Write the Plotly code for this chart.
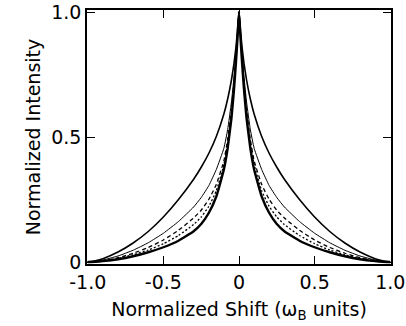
import plotly.graph_objects as go

shift = [-1.0, -0.95, -0.9, -0.8, -0.7, -0.6, -0.5, -0.4, -0.3, -0.25, -0.2, -0.15, -0.1, -0.075, -0.05,
         -0.033, -0.02, -0.01, 0.0,
         0.01, 0.02, 0.033, 0.05, 0.075, 0.1, 0.15, 0.2, 0.25, 0.3, 0.4, 0.5, 0.6, 0.7, 0.8, 0.9, 0.95, 1.0]

outer = [0.0, 0.005, 0.0135, 0.040, 0.076, 0.122, 0.180, 0.250, 0.331, 0.379, 0.434, 0.502, 0.592, 0.652, 0.728,
         0.795, 0.860, 0.925, 1.0,
         0.925, 0.860, 0.795, 0.728, 0.652, 0.592, 0.502, 0.434, 0.379, 0.331, 0.250, 0.180, 0.122, 0.076, 0.040,
         0.0135, 0.005, 0.0]
second = [0.0, 0.003, 0.008, 0.024, 0.047, 0.077, 0.115, 0.162, 0.220, 0.258, 0.305, 0.370, 0.455, 0.530, 0.640,
          0.740, 0.835, 0.915, 1.0,
          0.915, 0.835, 0.740, 0.640, 0.530, 0.455, 0.370, 0.305, 0.258, 0.220, 0.162, 0.115, 0.077, 0.047, 0.024,
          0.008, 0.003, 0.0]
dashed = [0.0, 0.0018, 0.005, 0.017, 0.035, 0.058, 0.088, 0.127, 0.176, 0.207, 0.250, 0.310, 0.405, 0.490, 0.610,
          0.720, 0.820, 0.905, 1.0,
          0.905, 0.820, 0.720, 0.610, 0.490, 0.405, 0.310, 0.250, 0.207, 0.176, 0.127, 0.088, 0.058, 0.035, 0.017,
          0.005, 0.0018, 0.0]
dotted = [0.0, 0.0015, 0.0045, 0.014, 0.029, 0.048, 0.073, 0.106, 0.150, 0.180, 0.222, 0.285, 0.390, 0.475, 0.595,
          0.705, 0.810, 0.900, 1.0,
          0.900, 0.810, 0.705, 0.595, 0.475, 0.390, 0.285, 0.222, 0.180, 0.150, 0.106, 0.073, 0.048, 0.029, 0.014,
          0.0045, 0.0015, 0.0]
inner = [0.0, 0.001, 0.0035, 0.011, 0.023, 0.039, 0.059, 0.085, 0.123, 0.152, 0.196, 0.262, 0.370, 0.455, 0.575,
         0.690, 0.800, 0.895, 1.0,
         0.895, 0.800, 0.690, 0.575, 0.455, 0.370, 0.262, 0.196, 0.152, 0.123, 0.085, 0.059, 0.039, 0.023, 0.011,
         0.0035, 0.001, 0.0]

x_tickvals = [-1.0, -0.5, 0.0, 0.5, 1.0]
x_ticktext = ["-1.0", "-0.5", "0", "0.5", "1.0"]
y_tickvals = [0.0, 0.5, 1.0]
y_ticktext = ["0", "0.5", "1.0"]

series = [
    (outer, dict(color="black", width=1.6, dash="solid")),
    (second, dict(color="black", width=1.0, dash="solid")),
    (dashed, dict(color="black", width=1.3, dash="4px,3px")),
    (dotted, dict(color="black", width=1.3, dash="2px,2px")),
    (inner, dict(color="black", width=2.4, dash="solid")),
]

fig = go.Figure()
for ys, ln in series:
    fig.add_trace(go.Scatter(x=shift, y=ys, mode="lines",
                             line=dict(shape="spline", smoothing=0.4, **ln),
                             showlegend=False, hoverinfo="skip"))

font = dict(family="DejaVu Sans, sans-serif", size=19, color="black")
fig.update_layout(
    width=406, height=326,
    margin=dict(l=87, r=15, t=10, b=62),
    paper_bgcolor="white", plot_bgcolor="white",
    font=font,
    xaxis=dict(range=[-1.005, 1.005], tickvals=x_tickvals, ticktext=x_ticktext, automargin=False,
               ticks="inside", ticklen=8, tickwidth=1.2, tickcolor="black",
               showline=True, linecolor="black", linewidth=1.5, mirror="allticks",
               showgrid=False, zeroline=False,
               title=dict(text="Normalized Shift (ω<sub>B</sub> units)", font=dict(size=19), standoff=11)),
    yaxis=dict(range=[-0.008, 1.008], tickvals=y_tickvals, ticktext=y_ticktext, automargin=False,
               ticks="inside", ticklen=8, tickwidth=1.2, tickcolor="black",
               showline=True, linecolor="black", linewidth=1.5, mirror="allticks",
               showgrid=False, zeroline=False,
               title=dict(text="Normalized Intensity", font=dict(size=19), standoff=6)),
)

fig.write_html("out.html")
